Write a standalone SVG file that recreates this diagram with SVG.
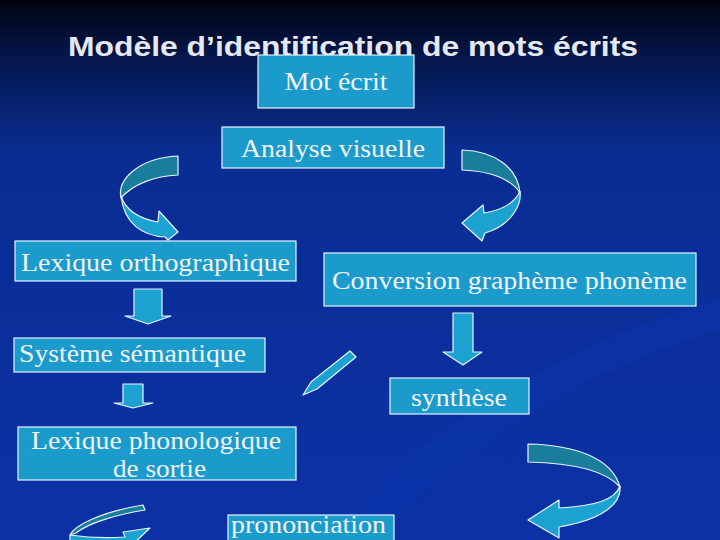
<svg xmlns="http://www.w3.org/2000/svg" width="720" height="540" viewBox="0 0 720 540">
<defs>
<linearGradient id="bg" x1="0" y1="0" x2="0" y2="1">
<stop offset="0" stop-color="#01040f"/>
<stop offset="0.1" stop-color="#041548"/>
<stop offset="0.28" stop-color="#0a2d92"/>
<stop offset="1" stop-color="#0b31a6"/>
</linearGradient>
<style>
.box{fill:#1b9bcc;stroke:#e8f4ff;stroke-width:1.2}
.t{font-family:"Liberation Serif","Times New Roman",serif;font-size:26px;fill:#f2f4f8}
.dark{fill:#1a7d9c;stroke:#e8f4ff;stroke-width:1.2;stroke-linejoin:round}
.light{fill:#1ba2d1;stroke:#e8f4ff;stroke-width:1.2;stroke-linejoin:round}
.title{font-family:"Liberation Sans",Arial,sans-serif;font-size:27px;font-weight:bold;fill:#e6e8f0}
</style>
</defs>
<rect width="720" height="540" fill="url(#bg)"/>
<path d="M330,540 C420,420 600,330 720,300 L720,330 C610,360 460,440 380,540 Z" fill="#0c38b4" opacity="0.35"/>
<text class="title" x="353" y="56" text-anchor="middle" textLength="570" lengthAdjust="spacingAndGlyphs">Modèle d’identification de mots écrits</text>

<g id="mot-ecrit"><rect class="box" x="258" y="55" width="156" height="53"/><text class="t" x="336" y="90" text-anchor="middle" textLength="103" lengthAdjust="spacingAndGlyphs">Mot écrit</text></g>
<g id="analyse-visuelle"><rect class="box" x="222" y="127" width="222" height="41"/><text class="t" x="333" y="157" text-anchor="middle" textLength="184" lengthAdjust="spacingAndGlyphs">Analyse visuelle</text></g>
<g id="lexique-ortho"><rect class="box" x="15" y="241" width="281" height="40"/><text class="t" x="155.5" y="271" text-anchor="middle" textLength="269" lengthAdjust="spacingAndGlyphs">Lexique orthographique</text></g>
<g id="conversion"><rect class="box" x="324" y="253" width="372" height="53"/><text class="t" x="509.5" y="289" text-anchor="middle" textLength="355" lengthAdjust="spacingAndGlyphs">Conversion graphème phonème</text></g>
<g id="systeme-semantique"><rect class="box" x="14" y="338" width="251" height="34"/><text class="t" x="132.5" y="362" text-anchor="middle" textLength="227" lengthAdjust="spacingAndGlyphs">Système sémantique</text></g>
<g id="synthese"><rect class="box" x="390" y="378" width="139" height="36"/><text class="t" x="459" y="406" text-anchor="middle" textLength="96" lengthAdjust="spacingAndGlyphs">synthèse</text></g>
<g id="lexique-phono"><rect class="box" x="18" y="427" width="278" height="53"/><text class="t" x="156" y="449" text-anchor="middle" textLength="250" lengthAdjust="spacingAndGlyphs">Lexique phonologique</text><text class="t" x="159.5" y="477" text-anchor="middle" textLength="93" lengthAdjust="spacingAndGlyphs">de sortie</text></g>
<g id="prononciation"><rect class="box" x="228" y="515" width="166" height="40"/><text class="t" x="308.5" y="533" text-anchor="middle" textLength="155" lengthAdjust="spacingAndGlyphs">prononciation</text></g>

<g id="connectors">
<path class="dark" d="M178,156 L178,175 C155,176 133,184 121,198 C117,180 138,158 178,156 Z"/>
<path class="light" d="M121,196 C126,211 141,219 158,222 L159,211 L178,232 L168,240 L165,237 C143,236 124,224 121,196 Z"/>
<path class="dark" d="M462,150 C495,151 518,168 520,193 C512,180 492,171 462,170 Z"/>
<path class="light" d="M520,191 C522,206 510,226 485,233 L482,241 L462,223 L483,205 L484,213 C502,210 515,203 520,191 Z"/>
<path class="light" d="M134,289 L162,289 L162,316 L171,316 L148,324 L125,316 L134,316 Z"/>
<path class="light" d="M453,313 L473,313 L473,352 L482,352 L463,365 L443,352 L453,352 Z"/>
<path class="light" d="M123,384 L143,384 L143,403 L153,403 L133,408 L114,403 L123,403 Z"/>
<path class="light" d="M350,351 L356,357 L317,389 L303,395 L311,382 Z"/>
<path class="dark" d="M143,505 L145,510 C120,514 90,522 76,533 L70,535 C74,526 100,512 143,505 Z"/>
<path class="light" d="M70,535 C90,538 110,538 125,537 L123,532 L150,528 L132,545 L70,545 Z"/>
<path class="dark" d="M528,444 C575,445 612,458 620,487 C605,470 570,463 528,462 Z"/>
<path class="light" d="M620,486 C622,505 600,520 559,527 L559,538 L528,520 L559,500 L559,508 C595,506 615,500 620,486 Z"/>
</g>
</svg>
